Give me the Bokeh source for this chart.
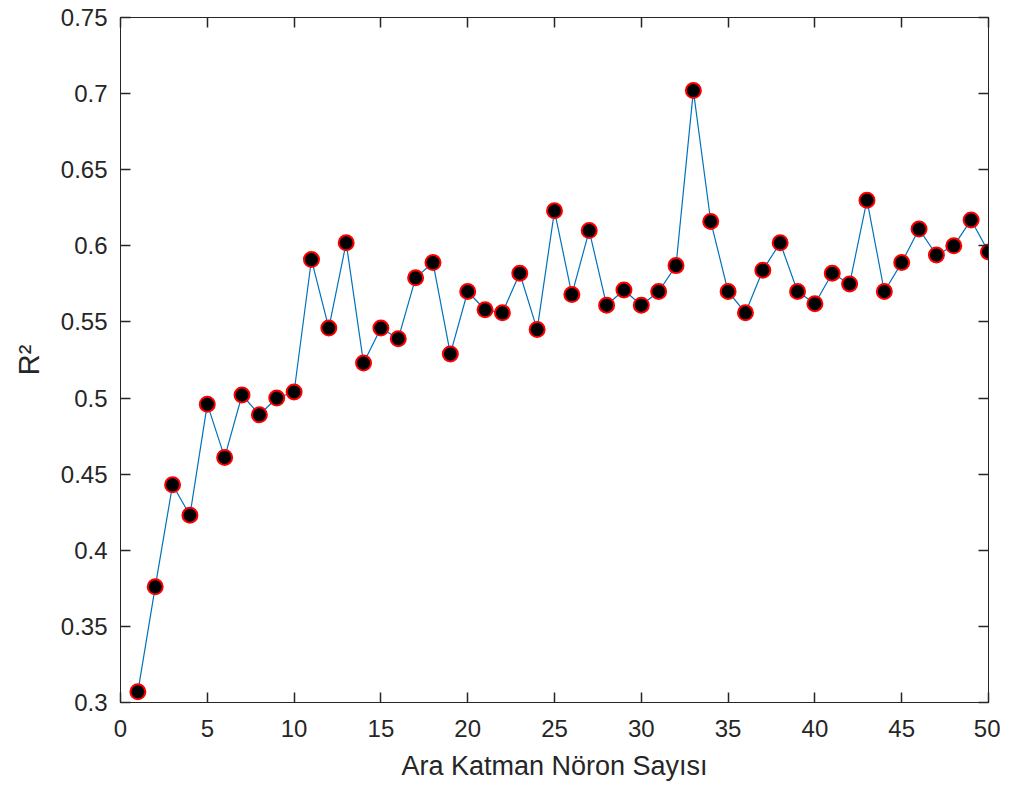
from bokeh.plotting import figure
from bokeh.models import LinearAxis, Range1d, FixedTicker
from bokeh.embed import file_html
from bokeh.resources import INLINE

neurons = list(range(1, 51))
r2 = [0.307, 0.376, 0.443, 0.423, 0.496, 0.461, 0.502, 0.489, 0.500, 0.504,
      0.591, 0.546, 0.602, 0.523, 0.546, 0.539, 0.579, 0.589, 0.529, 0.570,
      0.558, 0.556, 0.582, 0.545, 0.623, 0.568, 0.610, 0.561, 0.571, 0.561,
      0.570, 0.587, 0.702, 0.616, 0.570, 0.556, 0.584, 0.602, 0.570, 0.562,
      0.582, 0.575, 0.630, 0.570, 0.589, 0.611, 0.594, 0.600, 0.617, 0.596]
xticks = [0, 5, 10, 15, 20, 25, 30, 35, 40, 45, 50]
yticks = [0.3, 0.35, 0.4, 0.45, 0.5, 0.55, 0.6, 0.65, 0.7, 0.75]

FONT = "Liberation Sans"
AX = "#262626"

p = figure(width=1000, height=788, output_backend="svg", toolbar_location=None,
           x_range=Range1d(0, 50), y_range=Range1d(0.3, 0.75),
           min_border_left=120, min_border_right=12, min_border_top=17, min_border_bottom=86)
p.grid.visible = False
p.outline_line_color = AX
p.outline_line_width = 1
p.background_fill_color = "white"
p.border_fill_color = "white"

p.line(neurons, r2, line_color="#0072BD", line_width=1.2)
p.scatter(neurons, r2, marker="circle", size=15, fill_color="black",
          line_color="#FF0000", line_width=2)

def style(ax, labels=True):
    ax.axis_line_color = AX
    ax.major_tick_line_color = AX
    ax.major_tick_line_width = 1.5
    ax.major_tick_in = 10
    ax.major_tick_out = 0
    ax.minor_tick_line_color = None
    ax.major_label_text_font = FONT
    ax.major_label_text_font_size = "24px"
    ax.major_label_text_color = AX if labels else None
    ax.axis_label_text_font = FONT
    ax.axis_label_text_font_size = "27px"
    ax.axis_label_text_font_style = "normal"
    ax.axis_label_text_color = AX

xa = p.xaxis[0]
xa.ticker = FixedTicker(ticks=xticks)
xa.axis_label = "Ara Katman Nöron Sayısı"
xa.major_label_standoff = 17
xa.axis_label_standoff = 11
style(xa)

ya = p.yaxis[0]
ya.ticker = FixedTicker(ticks=yticks)
ya.major_label_overrides = {t: ("%g" % t) for t in yticks}
ya.axis_label = "R²"
ya.major_label_standoff = 13
ya.axis_label_standoff = 13
style(ya)
ya.axis_label_text_font_size = "29px"

top = LinearAxis(ticker=FixedTicker(ticks=xticks))
style(top, labels=False)
top.major_label_text_font_size = "0px"
p.add_layout(top, "above")

right = LinearAxis(ticker=FixedTicker(ticks=yticks))
style(right, labels=False)
right.major_label_text_font_size = "0px"
p.add_layout(right, "right")

open("out.html", "w").write(file_html(p, INLINE))
